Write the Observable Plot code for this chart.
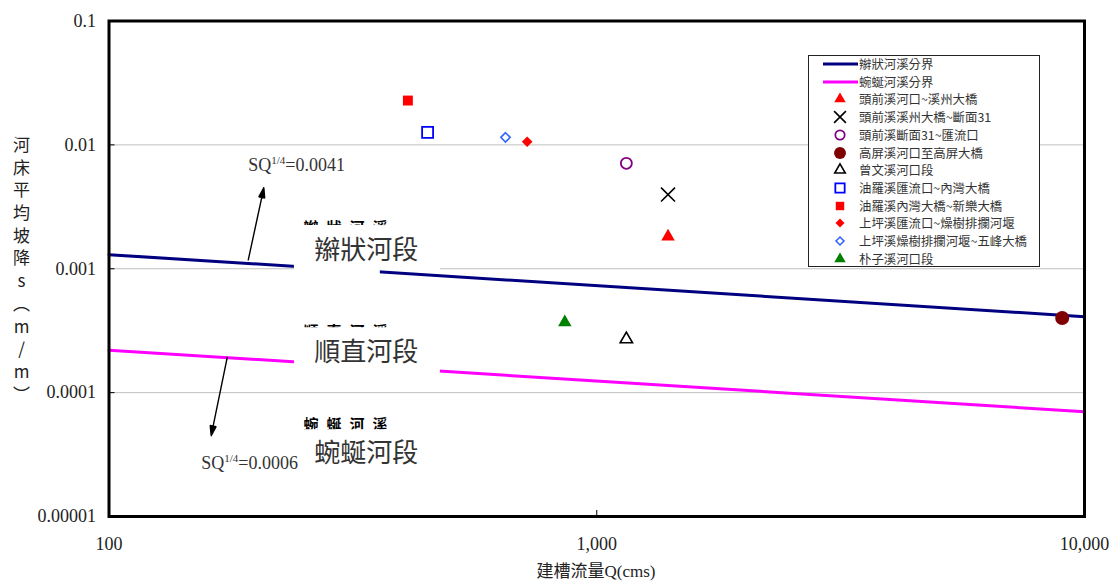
<!DOCTYPE html>
<html>
<head>
<meta charset="utf-8">
<script src="https://cdn.jsdelivr.net/npm/d3@7"></script>
<script src="https://cdn.jsdelivr.net/npm/@observablehq/plot@0.6"></script>
<style>
  body { margin: 0; background: #fff; }
  #wrap { position: relative; width: 1109px; height: 581px; overflow: hidden; background: #fff; }
  #chart svg { display: block; }
  #ytitle {
    position: absolute; left: 13px; top: 136px;
    writing-mode: vertical-rl; text-orientation: upright;
    font-family: "Noto Sans CJK TC", sans-serif; font-size: 17px; line-height: 17px;
    letter-spacing: 5.7px; color: #222;
  }
  #xtitle {
    position: absolute; left: 446px; width: 300px; top: 563px; text-align: center;
    font-family: "Liberation Serif", "Noto Sans CJK TC", serif; font-size: 17px; line-height: 17px; color: #222;
  }
  #legend {
    position: absolute; left: 808px; top: 55px; width: 232px; height: 212px;
    border: 1px solid #222; background: #fff; box-sizing: border-box;
  }
  #legend .row { position: absolute; left: 0; height: 16px; width: 230px; }
  #legend svg { position: absolute; left: 0; top: 0; }
  #legend span {
    position: absolute; left: 50px; top: 0; line-height: 16px; white-space: nowrap;
    font-family: "Noto Sans CJK TC", sans-serif; font-size: 12.4px; color: #333;
  }
</style>
</head>
<body>
<div id="wrap">
  <div id="chart"></div>
  <div id="ytitle">河床平均坡降s（m/m）</div>
  <div id="xtitle">建槽流量Q(cms)</div>
  <div id="legend"></div>
</div>
<script>
// Axis ticks and their labels
const yTicks = [0.1, 0.01, 0.001, 0.0001, 0.00001];
const yTickLabels = ["0.1", "0.01", "0.001", "0.0001", "0.00001"];
const xTicks = [100, 1000, 10000];
const xTickLabels = ["100", "1,000", "10,000"];
const gridValues = [0.01, 0.001, 0.0001];

// Reach-type boundary lines (straight on log-log axes)
const lineNames = ["辮狀河溪分界", "蜿蜒河溪分界"];
const boundaryQ = [100, 10000];
const braidedS = [0.0013, 0.00041];
const meanderS = [0.00022, 0.00007];

// Observed reaches: bankfull discharge Q (cms) and mean bed slope S (m/m)
const seriesNames = [
  "頭前溪河口~溪州大橋",
  "頭前溪溪州大橋~斷面31",
  "頭前溪斷面31~匯流口",
  "高屏溪河口至高屏大橋",
  "曾文溪河口段",
  "油羅溪匯流口~內灣大橋",
  "油羅溪內灣大橋~新樂大橋",
  "上坪溪匯流口~燥樹排攔河堰",
  "上坪溪燥樹排攔河堰~五峰大橋",
  "朴子溪河口段"
];
const seriesQ = [1400, 1400, 1150, 9000, 1150, 450, 410, 720, 650, 860];
const seriesS = [0.00182, 0.00397, 0.0071, 0.0004, 0.00027, 0.0126, 0.0228, 0.0106, 0.0115, 0.00037];

// Annotations
const formulaText = ["SQ^1/4=0.0041", "SQ^1/4=0.0006"];
const formulaQ = [193, 154.5];
const formulaS = [0.0068, 0.0000267];
const arrowFromQ = [193, 174.7];
const arrowFromS = [0.00118, 0.000192];
const arrowToQ = [207.7, 162];
const arrowToS = [0.0045, 0.0000449];

const reachLabels = ["辮狀河段", "順直河段", "蜿蜒河段"];
const reachOldLabels = ["辮狀河溪", "順直河溪", "蜿蜒河溪"];
const reachLabelQ = 337;
const reachLabelS = [0.0014, 0.00021, 0.0000321];
const reachOldQ = 250.5;
const reachOldS = [0.00211, 0.00031, 0.000055];

// White backing panels behind the reach captions
const panelQ1 = [240, 240, 240, 240];
const panelQ2 = [360, 478, 478, 478];
const panelTopS = [0.00223, 0.00223, 0.000334, 0.0000502];
const panelBottomS = [0.000863, 0.00097, 0.000125, 0.0000213];

// Marker styles per reach
const lineColors = ["#000080", "#ff00ff"];
const markerStyle = {
  "頭前溪河口~溪州大橋": {symbol: "triangle", fill: "#ff0000", stroke: "none", r: 5},
  "頭前溪溪州大橋~斷面31": {symbol: "times", fill: "none", stroke: "#000000", r: 6.4, sw: 1.6},
  "頭前溪斷面31~匯流口": {symbol: "circle", fill: "none", stroke: "#800080", r: 5.5, sw: 1.8},
  "高屏溪河口至高屏大橋": {symbol: "circle", fill: "#800000", stroke: "none", r: 7},
  "曾文溪河口段": {symbol: "triangle", fill: "none", stroke: "#000000", r: 4.6, sw: 1.6},
  "油羅溪匯流口~內灣大橋": {symbol: "square", fill: "none", stroke: "#0000ff", r: 6.2, sw: 1.8},
  "油羅溪內灣大橋~新樂大橋": {symbol: "square", fill: "#ff0000", stroke: "none", r: 5.6},
  "上坪溪匯流口~燥樹排攔河堰": {symbol: "diamond2", fill: "#ff0000", stroke: "none", r: 4.8},
  "上坪溪燥樹排攔河堰~五峰大橋": {symbol: "diamond2", fill: "none", stroke: "#3366ff", r: 4.2, sw: 1.6},
  "朴子溪河口段": {symbol: "triangle", fill: "#008000", stroke: "none", r: 5}
};

const idx = (arr) => arr.map((_, i) => i);
const serif = "Liberation Serif, Times New Roman, serif";
const cjk = "Noto Sans CJK TC, sans-serif";

const dotMarks = seriesNames.map((name, i) => {
  const st = markerStyle[name];
  return Plot.dot([i], {
    x: (k) => seriesQ[k], y: (k) => seriesS[k],
    symbol: st.symbol, r: st.r, fill: st.fill, stroke: st.stroke, strokeWidth: st.sw ?? 1
  });
});

const chart = Plot.plot({
  width: 1109,
  height: 581,
  marginLeft: 108.5,
  marginRight: 25,
  marginTop: 20.5,
  marginBottom: 65,
  style: {fontFamily: serif, background: "white"},
  x: {type: "log", domain: [100, 10000], label: null},
  y: {type: "log", domain: [0.00001, 0.1], label: null},
  marks: [
    Plot.ruleY(gridValues, {stroke: "#c0c0c0", strokeWidth: 1}),
    Plot.line(idx(boundaryQ), {x: (i) => boundaryQ[i], y: (i) => braidedS[i], stroke: lineColors[0], strokeWidth: 3}),
    Plot.line(idx(boundaryQ), {x: (i) => boundaryQ[i], y: (i) => meanderS[i], stroke: lineColors[1], strokeWidth: 3}),
    Plot.text(idx(reachOldLabels), {
      x: () => reachOldQ, y: (i) => reachOldS[i], text: (i) => reachOldLabels[i],
      textAnchor: "start", fontSize: 15, fontWeight: "bold", fontFamily: cjk, fill: "#000"
    }),
    Plot.rect(idx(panelQ1), {
      x1: (i) => panelQ1[i], x2: (i) => panelQ2[i],
      y1: (i) => panelTopS[i], y2: (i) => panelBottomS[i], fill: "white"
    }),
    Plot.text(idx(reachLabels), {
      x: () => reachLabelQ, y: (i) => reachLabelS[i], text: (i) => reachLabels[i],
      fontSize: 26, fontFamily: cjk, fill: "#333"
    }),
    Plot.arrow(idx(formulaText), {
      x1: (i) => arrowFromQ[i], y1: (i) => arrowFromS[i],
      x2: (i) => arrowToQ[i], y2: (i) => arrowToS[i],
      stroke: "#000", strokeWidth: 1.4, headLength: 11, headAngle: 34
    }),
    Plot.text(idx(formulaText), {
      x: (i) => formulaQ[i], y: (i) => formulaS[i], text: (i) => formulaText[i],
      textAnchor: "start", fontSize: 18, fontFamily: serif, fill: "#333"
    }),
    ...dotMarks,
    Plot.frame({stroke: "#000", strokeWidth: 3}),
    Plot.axisY(yTicks, {
      anchor: "left", tickSize: 0, tickPadding: 13, fontSize: 18, color: "#222",
      tickFormat: (d) => yTickLabels[yTicks.indexOf(d)]
    }),
    Plot.axisY(gridValues, {anchor: "left", tickSize: 6, tickPadding: 0, dx: 6, color: "#000", tickFormat: () => ""}),
    Plot.axisX(xTicks, {
      anchor: "bottom", tickSize: 0, tickPadding: 21, fontSize: 18, color: "#222",
      tickFormat: (d) => xTickLabels[xTicks.indexOf(d)]
    }),
    Plot.axisX([1000], {anchor: "bottom", tickSize: 6, tickPadding: 0, dy: -6, color: "#000", tickFormat: () => ""})
  ]
});

document.getElementById("chart").appendChild(chart);

// Superscript exponent in the SQ^1/4 formulas
d3.select(chart).selectAll("text").each(function () {
  const m = this.textContent.match(/^SQ\^([^=]+)(=.*)$/);
  if (!m) return;
  const t = d3.select(this);
  t.text("SQ");
  t.append("tspan").attr("font-size", 11).attr("dy", -7).text(m[1]);
  t.append("tspan").attr("font-size", 18).attr("dy", 7).text(m[2]);
});
// Wider tracking for the small reach captions
d3.select(chart).selectAll("text").filter(function () {
  return reachOldLabels.includes(this.textContent);
}).attr("letter-spacing", 8);
// Solid arrowheads: close the head of each arrow path and fill it
d3.select(chart).selectAll("g[aria-label='arrow'] path").each(function () {
  const n = (this.getAttribute("d").match(/-?\d+(\.\d+)?(e-?\d+)?/g) || []).map(Number);
  if (n.length < 10) return;
  const [x1, y1, x2, y2, hx1, hy1, , , hx2, hy2] = n;
  d3.select(this)
    .attr("d", `M${x1},${y1}L${x2},${y2}M${hx1},${hy1}L${x2},${y2}L${hx2},${hy2}Z`)
    .attr("fill", "#000");
});

// Legend
const symbolTypes = {
  triangle: d3.symbolTriangle, times: d3.symbolTimes, circle: d3.symbolCircle,
  square: d3.symbolSquare, diamond2: d3.symbolDiamond2
};
const legend = d3.select("#legend");
const rows = [
  ...lineNames.map((name, i) => ({name, color: lineColors[i]})),
  ...seriesNames.map((name) => ({name, style: markerStyle[name]}))
];
rows.forEach((row, i) => {
  const div = legend.append("div").attr("class", "row").style("top", `${i * 17.7}px`);
  const svg = div.append("svg").attr("width", 50).attr("height", 16);
  if (row.color) {
    svg.append("line").attr("x1", 14).attr("x2", 49).attr("y1", 8).attr("y2", 8)
      .attr("stroke", row.color).attr("stroke-width", 3);
  } else {
    const st = row.style;
    const r = st.r * 0.85;
    svg.append("path")
      .attr("transform", "translate(31,8)")
      .attr("d", d3.symbol(symbolTypes[st.symbol], Math.PI * r * r)())
      .attr("fill", st.fill).attr("stroke", st.stroke).attr("stroke-width", st.sw ?? 1);
  }
  div.append("span").text(row.name);
});
</script>
</body>
</html>
